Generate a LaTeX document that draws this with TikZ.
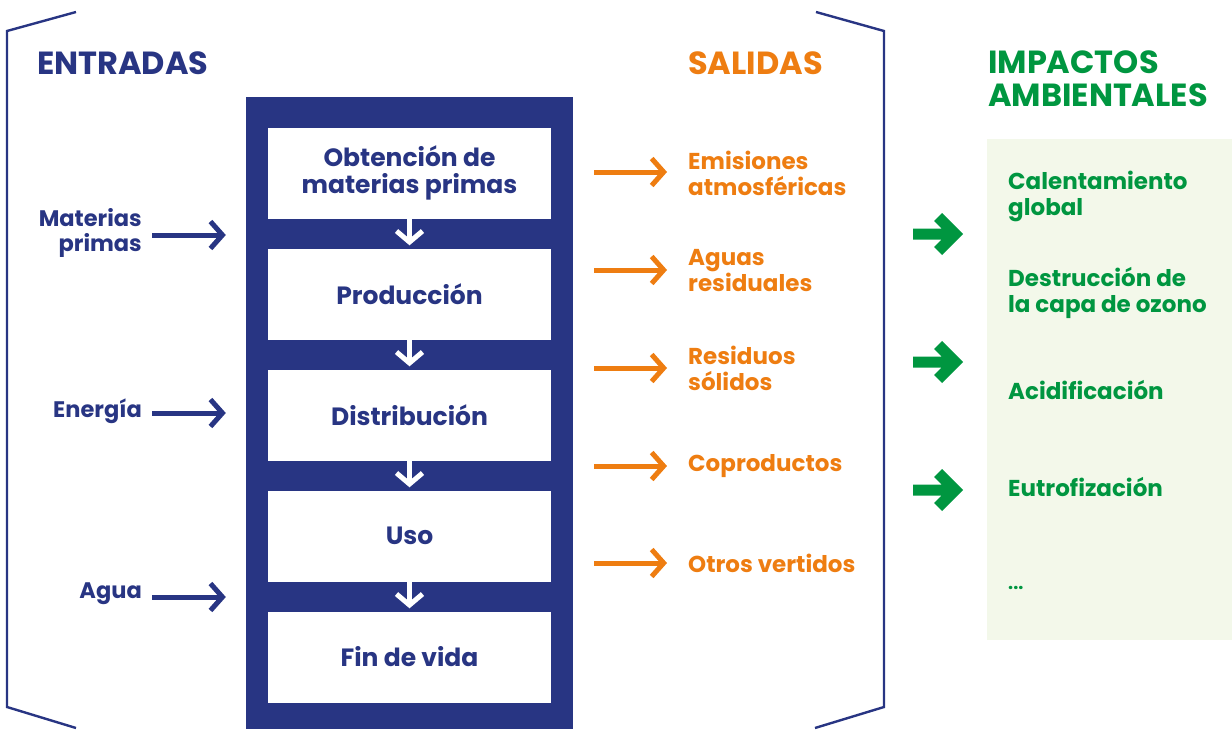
\documentclass[tikz,border=0pt]{standalone}
\usepackage{fontspec}
\setmainfont{Poppins}
\usetikzlibrary{arrows.meta}
\definecolor{navy}{HTML}{283583}
\definecolor{orng}{HTML}{EE7D11}
\definecolor{grn}{HTML}{009640}
\definecolor{lgrn}{HTML}{F3F8EA}
\tikzset{
  brk/.style={draw=navy, line width=2.4pt, line join=miter},
  stagebox/.style={fill=white, minimum width=283pt, minimum height=91pt, inner sep=0pt, align=center, text=navy, font=\fontsize{25}{27}\selectfont\bfseries},
  head/.style={inner sep=0pt, anchor=west, align=left, font=\fontsize{32}{33}\selectfont\bfseries},
  inlab/.style={inner sep=0pt, anchor=east, align=right, text=navy, font=\fontsize{22.5}{25}\selectfont\bfseries},
  outlab/.style={inner sep=0pt, anchor=west, align=left, text=orng, font=\fontsize{23}{26}\selectfont\bfseries},
  implab/.style={inner sep=0pt, anchor=west, align=left, text=grn, font=\fontsize{23}{26}\selectfont\bfseries},
  narrow/.style={draw=navy, line width=5pt, -{Straight Barb[length=12pt, width=27pt, line width=5pt]}},
  oarrow/.style={draw=orng, line width=5pt, -{Straight Barb[length=12pt, width=27pt, line width=5pt]}},
  warrow/.style={draw=white, line width=5pt, -{Straight Barb[length=11pt, width=26pt, line width=5pt]}},
  gshape/.style={fill=grn},
}
\newcommand{\greenarrow}[2]{%
  \fill[gshape, shift={(#1,#2)}] (0,0) -- (-21,-21) -- (-29,-13) -- (-21.5,-5.5) -- (-50,-5.5) -- (-50,5.5) -- (-21.5,5.5) -- (-29,13) -- (-21,21) -- cycle;}
\begin{document}
\begin{tikzpicture}[x=1pt, y=-1pt]
\useasboundingbox (0,0) rectangle (1232,729);
% brackets
\draw[brk] (76,12) -- (7,31) -- (7,707) -- (76,728);
\draw[brk] (816,12) -- (884,31) -- (884,707) -- (815,728);
% headers
\node[head, text=navy] (hin) at (37,63) {ENTRADAS};
\node[head, text=orng] (hout) at (688,63) {SALIDAS};
\node[head, text=grn] (himp) at (988,79) {IMPACTOS\\AMBIENTALES};
% central frame
\node[fill=navy, minimum width=327pt, minimum height=632pt, inner sep=0pt] (frame) at (409.5,413) {};
\node[stagebox] (b1) at (409.5,173) {Obtención de\\materias primas};
\node[stagebox] (b2) at (409.5,294) {Producción};
\node[stagebox] (b3) at (409.5,415) {Distribución};
\node[stagebox] (b4) at (409.5,536) {Uso};
\node[stagebox] (b5) at (409.5,657) {Fin de vida};
\draw[warrow, shorten >=3pt] (b1.south) -- (b2.north);
\draw[warrow, shorten >=3pt] (b2.south) -- (b3.north);
\draw[warrow, shorten >=3pt] (b3.south) -- (b4.north);
\draw[warrow, shorten >=3pt] (b4.south) -- (b5.north);
% inputs
\node[inlab] (mp) at (142,233) {Materias\\primas};
\node[inlab] (en) at (142,411) {Energía};
\node[inlab] (ag) at (142,594) {Agua};
\draw[narrow] ([xshift=10pt]mp.east |- 0,235) -- ([xshift=-20pt]frame.west |- 0,235);
\draw[narrow] ([xshift=10pt]en.east |- 0,413) -- ([xshift=-20pt]frame.west |- 0,413);
\draw[narrow] ([xshift=10pt]ag.east |- 0,597) -- ([xshift=-20pt]frame.west |- 0,597);
% outputs
\node[outlab] (o1) at (688,173) {Emisiones\\atmosféricas};
\node[outlab] (o2) at (688,271) {Aguas\\residuales};
\node[outlab] (o3) at (688,368) {Residuos\\sólidos};
\node[outlab] (o4) at (688,466) {Coproductos};
\node[outlab] (o5) at (688,563) {Otros vertidos};
\draw[oarrow] ([xshift=21pt]frame.east |- 0,172) -- ([xshift=-21pt]o1.west |- 0,172);
\draw[oarrow] ([xshift=21pt]frame.east |- 0,270) -- ([xshift=-21pt]o2.west |- 0,270);
\draw[oarrow] ([xshift=21pt]frame.east |- 0,368) -- ([xshift=-21pt]o3.west |- 0,368);
\draw[oarrow] ([xshift=21pt]frame.east |- 0,466) -- ([xshift=-21pt]o4.west |- 0,466);
\draw[oarrow] ([xshift=21pt]frame.east |- 0,563) -- ([xshift=-21pt]o5.west |- 0,563);
% impacts
\fill[lgrn] (987,139) rectangle (1232,640);
\node[implab] (i1) at (1008,196) {Calentamiento\\global};
\node[implab] (i2) at (1008,293) {Destrucción de\\la capa de ozono};
\node[implab] (i3) at (1008,390) {Acidificación};
\node[implab] (i4) at (1008,487) {Eutrofización};
\node[implab, font=\fontsize{18}{20}\selectfont\bfseries] (i5) at (1008,588) {...};
\greenarrow{963}{234}
\greenarrow{963}{362}
\greenarrow{963}{490}
\end{tikzpicture}
\end{document}
